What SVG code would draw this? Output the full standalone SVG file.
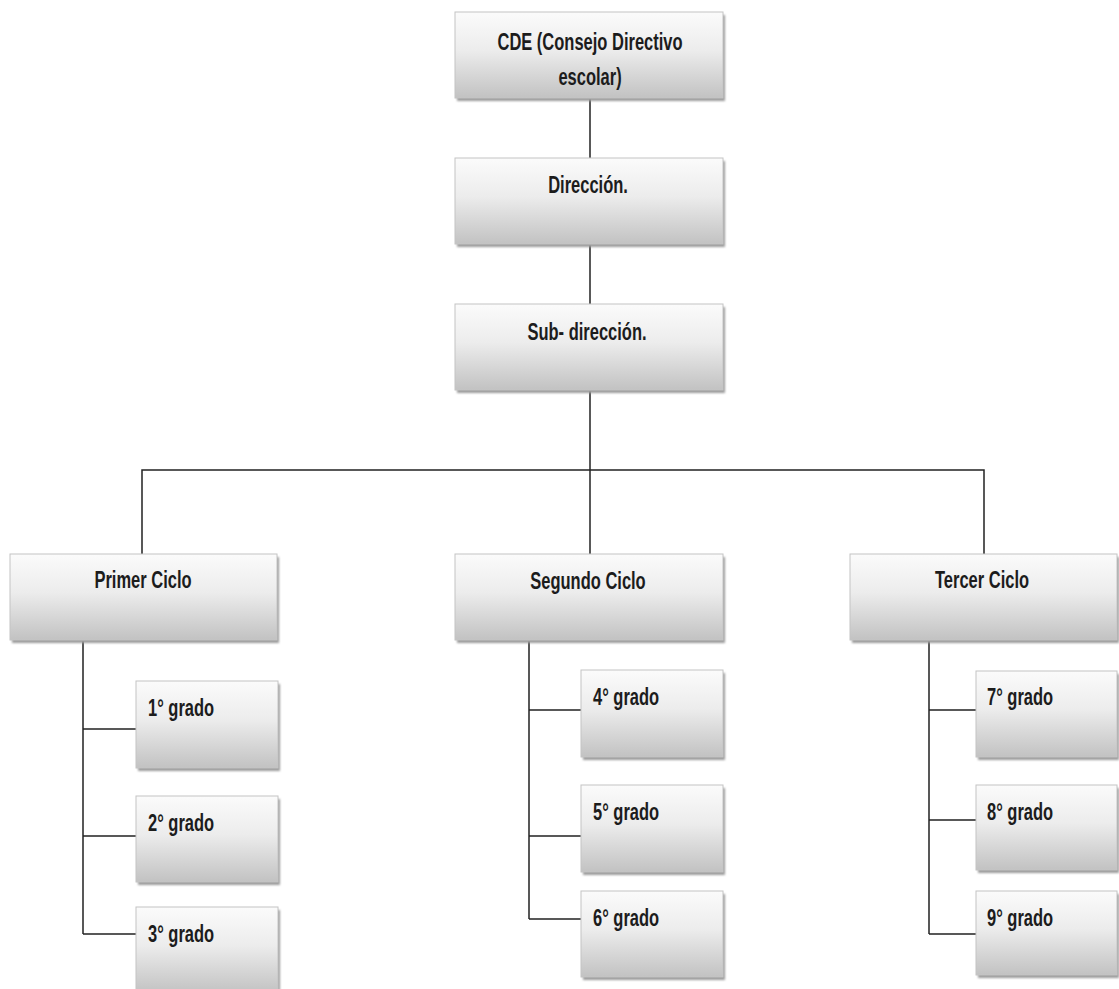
<svg xmlns="http://www.w3.org/2000/svg" width="1119" height="989" viewBox="0 0 1119 989">
  <defs>
    <linearGradient id="boxFill" x1="0" y1="0" x2="0" y2="1">
      <stop offset="0" stop-color="#fbfbfb"/>
      <stop offset="0.45" stop-color="#ececec"/>
      <stop offset="1" stop-color="#c2c2c2"/>
    </linearGradient>
    <filter id="soft" x="-5%" y="-5%" width="110%" height="115%">
      <feGaussianBlur stdDeviation="0.8"/>
    </filter>
  </defs>
  <style>
    .shadow { fill: #9c9c9c; filter: url(#soft); }
    .box { fill: url(#boxFill); stroke: #c4c4c4; stroke-width: 1; }
    .t { font-family: "Liberation Sans", Arial, sans-serif; font-weight: bold; font-size: 16.5px; fill: #1c1c1c; }
    .mid { text-anchor: middle; }
    .link { fill: none; stroke: #222; stroke-width: 1.5; }
  </style>
  <rect width="1119" height="989" fill="#ffffff"/>

  <!-- connectors -->
  <g id="connectors">
    <path class="link" d="M590 98 V158"/>
    <path class="link" d="M590 244 V304"/>
    <path class="link" d="M590 390 V470"/>
    <path class="link" d="M142 554 V470 H984 V554"/>
    <path class="link" d="M590 470 V554"/>
    <path class="link" d="M83 640 V934 M83 729 H136 M83 836 H136 M83 934 H136"/>
    <path class="link" d="M529 640 V919 M529 710 H581 M529 836 H581 M529 919 H581"/>
    <path class="link" d="M929 640 V934 M929 710 H976 M929 820 H976 M929 934 H976"/>
  </g>

  <g id="cde">
    <rect class="shadow" x="457" y="15" width="268" height="86"/>
    <rect class="box" x="455" y="12" width="268" height="86"/>
    <text class="t mid" transform="translate(590 50) scale(1 1.5)">CDE (Consejo Directivo</text>
    <text class="t mid" transform="translate(590 85) scale(1 1.5)">escolar)</text>
  </g>

  <g id="direccion">
    <rect class="shadow" x="457" y="161" width="268" height="86"/>
    <rect class="box" x="455" y="158" width="268" height="86"/>
    <text class="t mid" transform="translate(588 193) scale(1 1.5)">Dirección.</text>
  </g>

  <g id="subdireccion">
    <rect class="shadow" x="457" y="307" width="268" height="86"/>
    <rect class="box" x="455" y="304" width="268" height="86"/>
    <text class="t mid" transform="translate(587 340) scale(1 1.5)">Sub- dirección.</text>
  </g>

  <g id="primer-ciclo">
    <rect class="shadow" x="12" y="557" width="267" height="86"/>
    <rect class="box" x="10" y="554" width="267" height="86"/>
    <text class="t mid" transform="translate(143 588) scale(1 1.5)">Primer Ciclo</text>
  </g>

  <g id="segundo-ciclo">
    <rect class="shadow" x="457" y="557" width="268" height="86"/>
    <rect class="box" x="455" y="554" width="268" height="86"/>
    <text class="t mid" transform="translate(588 589) scale(1 1.5)">Segundo Ciclo</text>
  </g>

  <g id="tercer-ciclo">
    <rect class="shadow" x="852" y="557" width="267" height="86"/>
    <rect class="box" x="850" y="554" width="267" height="86"/>
    <text class="t mid" transform="translate(982 588) scale(1 1.5)">Tercer Ciclo</text>
  </g>

  <g id="grado-1">
    <rect class="shadow" x="138" y="684" width="142" height="87"/>
    <rect class="box" x="136" y="681" width="142" height="87"/>
    <text class="t" transform="translate(148 716) scale(1 1.5)">1° grado</text>
  </g>
  <g id="grado-2">
    <rect class="shadow" x="138" y="799" width="142" height="86"/>
    <rect class="box" x="136" y="796" width="142" height="86"/>
    <text class="t" transform="translate(148 831) scale(1 1.5)">2° grado</text>
  </g>
  <g id="grado-3">
    <rect class="shadow" x="138" y="910" width="142" height="86"/>
    <rect class="box" x="136" y="907" width="142" height="86"/>
    <text class="t" transform="translate(148 942) scale(1 1.5)">3° grado</text>
  </g>

  <g id="grado-4">
    <rect class="shadow" x="583" y="673" width="142" height="87"/>
    <rect class="box" x="581" y="670" width="142" height="87"/>
    <text class="t" transform="translate(593 705) scale(1 1.5)">4° grado</text>
  </g>
  <g id="grado-5">
    <rect class="shadow" x="583" y="788" width="142" height="87"/>
    <rect class="box" x="581" y="785" width="142" height="87"/>
    <text class="t" transform="translate(593 820) scale(1 1.5)">5° grado</text>
  </g>
  <g id="grado-6">
    <rect class="shadow" x="583" y="894" width="142" height="86"/>
    <rect class="box" x="581" y="891" width="142" height="86"/>
    <text class="t" transform="translate(593 926) scale(1 1.5)">6° grado</text>
  </g>

  <g id="grado-7">
    <rect class="shadow" x="978" y="674" width="141" height="86"/>
    <rect class="box" x="976" y="671" width="141" height="86"/>
    <text class="t" transform="translate(987 705) scale(1 1.5)">7° grado</text>
  </g>
  <g id="grado-8">
    <rect class="shadow" x="978" y="788" width="141" height="85"/>
    <rect class="box" x="976" y="785" width="141" height="85"/>
    <text class="t" transform="translate(987 820) scale(1 1.5)">8° grado</text>
  </g>
  <g id="grado-9">
    <rect class="shadow" x="978" y="894" width="141" height="84"/>
    <rect class="box" x="976" y="891" width="141" height="84"/>
    <text class="t" transform="translate(987 926) scale(1 1.5)">9° grado</text>
  </g>
</svg>
